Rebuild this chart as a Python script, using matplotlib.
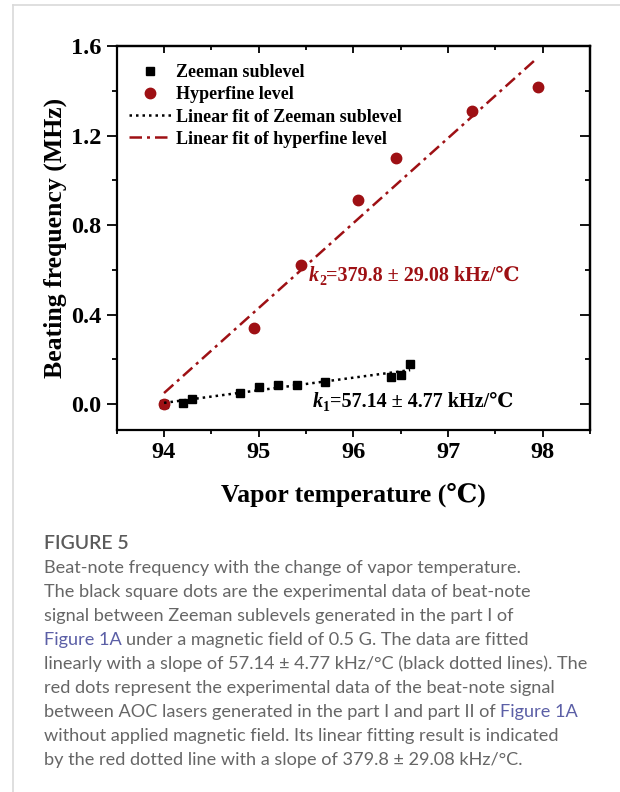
import numpy as np
import matplotlib
matplotlib.use("Agg")
import matplotlib.pyplot as plt
from matplotlib.lines import Line2D
from matplotlib.ticker import MultipleLocator
from matplotlib.transforms import IdentityTransform

# valores
zeeman_t = [94.0, 94.2, 94.3, 94.8, 95.0, 95.2, 95.4, 95.7, 96.4, 96.5, 96.6]
zeeman_f = [0.003, 0.007, 0.022, 0.052, 0.075, 0.087, 0.087, 0.100, 0.120, 0.130, 0.178]
hiper_t = [94.0, 94.95, 95.45, 96.05, 96.45, 97.25, 97.95]
hiper_f = [0.0, 0.34, 0.622, 0.911, 1.099, 1.31, 1.419]

x_ticks = [94, 95, 96, 97, 98]
y_ticks = [0.0, 0.4, 0.8, 1.2, 1.6]

leyenda = ["Zeeman sublevel", "Hyperfine level",
           "Linear fit of Zeeman sublevel", "Linear fit of hyperfine level"]
k1_txt = ("1", "=57.14 ± 4.77 kHz/℃")
k2_txt = ("2", "=379.8 ± 29.08 kHz/℃")

titulo = "FIGURE 5"
pie = [
    [("Beat-note frequency with the change of vapor temperature.", "n")],
    [("The black square dots are the experimental data of beat-note", "n")],
    [("signal between Zeeman sublevels generated in the part I of", "n")],
    [("Figure 1A", "l"), ("under a magnetic field of 0.5 G. The data are fitted", "n")],
    [("linearly with a slope of 57.14 ± 4.77 kHz/°C (black dotted lines). The", "n")],
    [("red dots represent the experimental data of the beat-note signal", "n")],
    [("between AOC lasers generated in the part I and part II of", "n"), ("Figure 1A", "l")],
    [("without applied magnetic field. Its linear fitting result is indicated", "n")],
    [("by the red dotted line with a slope of 379.8 ± 29.08 kHz/°C.", "n")],
]

ROJO = "#9E1014"
W, H = 620, 792
serif = ["Liberation Serif", "DejaVu Serif", "Noto Sans CJK SC"]

plt.rcParams["font.family"] = serif
plt.rcParams["font.weight"] = "bold"
plt.rcParams["axes.labelweight"] = "bold"

fig = plt.figure(figsize=(W / 100, H / 100), dpi=100)
ax = fig.add_axes([116.7 / W, 1 - 430 / H, (590 - 116.7) / W, (430 - 46) / H])

ax.plot(zeeman_t, zeeman_f, "s", color="black", ms=6.2, label=leyenda[0], zorder=3)
ax.plot(hiper_t, hiper_f, "o", color=ROJO, ms=7.5, label=leyenda[1], zorder=4)

# ajustes lineales
p1 = np.polyfit(zeeman_t, zeeman_f, 1)
p2 = np.polyfit(hiper_t, hiper_f, 1)
xa = np.array([min(zeeman_t), max(zeeman_t)])
xb = np.array([min(hiper_t), max(hiper_t) - 0.03])
ax.plot(xa, np.polyval(p1, xa), color="black", lw=1.8, ls=(0, (1, 1.6)),
        label=leyenda[2], zorder=5)
ax.plot(xb, np.polyval(p2, xb), color=ROJO, lw=1.8, ls=(0, (5, 2, 1.2, 2)),
        label=leyenda[3], zorder=5)

ax.set_xlim(93.5, 98.5)
ax.set_ylim(-0.115, 1.6)
ax.set_xticks(x_ticks)
ax.set_yticks(y_ticks)
ax.set_yticklabels(["%.1f" % v for v in y_ticks])
ax.xaxis.set_minor_locator(MultipleLocator(0.5))
ax.yaxis.set_minor_locator(MultipleLocator(0.2))
ax.tick_params(axis="x", which="major", direction="out", length=5, width=1.3,
               labelsize=17.5, pad=4)
ax.tick_params(axis="x", which="minor", direction="out", length=3, width=1.3)
ax.tick_params(axis="y", which="major", direction="out", length=7, width=1.3,
               labelsize=17.5, pad=4)
ax.tick_params(axis="y", which="minor", direction="out", length=3.5, width=1.3)
for s in ax.spines.values():
    s.set_linewidth(1.6)

# ejes de arriba y derecha con ticks hacia adentro
arriba = ax.secondary_xaxis("top")
arriba.set_xticks(x_ticks)
arriba.xaxis.set_minor_locator(MultipleLocator(0.5))
arriba.tick_params(which="major", direction="in", length=5, width=1.3, labeltop=False)
arriba.tick_params(which="minor", direction="in", length=3, width=1.3)
arriba.spines["top"].set_linewidth(1.6)
derecha = ax.secondary_yaxis("right")
derecha.set_yticks(y_ticks)
derecha.yaxis.set_minor_locator(MultipleLocator(0.2))
derecha.tick_params(which="major", direction="in", length=7, width=1.3, labelright=False)
derecha.tick_params(which="minor", direction="in", length=3.5, width=1.3)
derecha.spines["right"].set_linewidth(1.6)

ax.set_xlabel("Vapor temperature (℃)", fontsize=18.5, labelpad=14)
ax.set_ylabel("Beating frequency (MHz)", fontsize=18.5, labelpad=3)

ax.legend(loc="upper left", bbox_to_anchor=(0.0, 0.985), frameon=False,
          fontsize=13, handlelength=2.3, handletextpad=0.3, labelspacing=0.28,
          borderaxespad=0.3)

fig.canvas.draw()
rend = fig.canvas.get_renderer()


def etiqueta_k(x, y, partes, color):
    # k en cursiva, subindice y el resto del texto, puestos uno tras otro
    px, py = ax.transData.transform((x, y))
    t = fig.text(px, py, "k", transform=IdentityTransform(), fontsize=14.5,
                 style="italic", color=color, va="baseline")
    px += t.get_window_extent(rend).width + 0.5
    t = fig.text(px, py - 4, partes[0], transform=IdentityTransform(), fontsize=10,
                 color=color, va="baseline")
    px += t.get_window_extent(rend).width
    fig.text(px, py, partes[1], transform=IdentityTransform(), fontsize=14.5,
             color=color, va="baseline")


etiqueta_k(95.53, 0.55, k2_txt, ROJO)
etiqueta_k(95.57, -0.013, k1_txt, "black")

# marco gris de la pagina
gris_marco = "#d9d9d9"
fig.add_artist(Line2D([12.7 / W, 12.7 / W], [1 - 5 / H, 0], color=gris_marco, lw=1.2))
fig.add_artist(Line2D([12.7 / W, 1], [1 - 5 / H, 1 - 5 / H], color=gris_marco, lw=1.2))

# pie de figura
colores = {"n": "#666666", "l": "#5b5fa6"}
fuente_pie = ["Lato", "DejaVu Sans"]
tam_pie = 13.1


def ancho(texto):
    t = fig.text(0, 0, texto, fontsize=tam_pie, family=fuente_pie, weight="normal")
    w = t.get_window_extent(rend).width
    t.remove()
    return w


espacio = ancho("x x") - ancho("xx")

fig.text(44 / W, 1 - 549 / H, titulo, fontsize=14, family=fuente_pie,
         weight="semibold", color="#5a5a5a", va="baseline")
for i, linea in enumerate(pie):
    y = 1 - (573 + 24 * i) / H
    x = 44.0
    for texto, c in linea:
        t = fig.text(x / W, y, texto, fontsize=tam_pie, family=fuente_pie,
                     weight="normal", color=colores[c], va="baseline")
        x += t.get_window_extent(rend).width + espacio

fig.savefig("out.png", dpi=100)
